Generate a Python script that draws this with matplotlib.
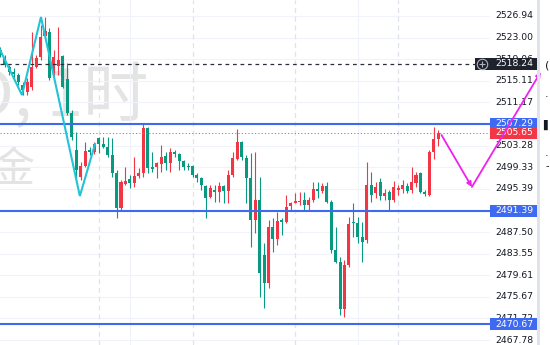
import matplotlib
matplotlib.use("Agg")
import matplotlib.pyplot as plt
from matplotlib.patches import Rectangle

# ---------------------------------------------------------------------------
# Velas 1H (XAUUSD)
# ---------------------------------------------------------------------------
opens = [
    2520.73, 2519.27, 2517.63, 2516.71, 2516.17, 2514.34, 2513.06, 2513.98, 2517.63, 2519.45,
    2523.29, 2524.02, 2516.71, 2517.81, 2519.64, 2515.44, 2509.23, 2502.47, 2497.54, 2499.55,
    2502.47, 2502.11, 2504.66, 2503.57, 2503.02, 2501.56, 2498.27, 2491.88, 2496.27, 2497.18,
    2496.45, 2497.73, 2498.27, 2506.49, 2499.37, 2499.37, 2499.92, 2501.38, 2500.10, 2502.11,
    2501.74, 2500.46, 2499.55, 2499.55, 2497.91, 2497.36, 2495.90, 2493.89, 2495.17, 2494.80,
    2495.90, 2494.99, 2497.91, 2500.83, 2503.93, 2501.01, 2497.36, 2489.69, 2493.34, 2483.30,
    2478.19, 2488.41, 2486.22, 2489.69, 2489.33, 2492.25, 2492.80, 2492.98, 2493.34, 2492.43,
    2493.34, 2495.35, 2494.99, 2495.90, 2492.98, 2484.22, 2482.02, 2473.44, 2481.48, 2489.33,
    2489.15, 2486.59, 2486.04, 2496.08, 2494.62, 2496.63, 2494.07, 2494.80, 2493.34, 2495.17,
    2495.35, 2495.90, 2495.17, 2496.45, 2498.27, 2494.80, 2494.26, 2502.11, 2504.48,
]
highs = [
    2521.28, 2519.82, 2517.99, 2517.44, 2516.53, 2514.89, 2515.62, 2524.02, 2519.82, 2525.30,
    2526.76, 2524.75, 2520.73, 2524.93, 2519.82, 2518.36, 2509.78, 2505.76, 2500.28, 2503.93,
    2503.02, 2503.93, 2504.85, 2504.85, 2504.85, 2504.66, 2498.82, 2497.00, 2499.37, 2497.91,
    2501.19, 2499.19, 2507.40, 2506.67, 2502.11, 2500.28, 2503.39, 2502.11, 2502.84, 2502.47,
    2501.93, 2500.65, 2500.10, 2499.73, 2498.27, 2497.54, 2496.08, 2496.08, 2496.08, 2496.63,
    2496.08, 2498.82, 2502.11, 2506.31, 2504.12, 2501.56, 2501.93, 2502.11, 2497.54, 2485.49,
    2489.69, 2490.06, 2491.15, 2490.06, 2494.26, 2492.98, 2494.62, 2494.80, 2494.80, 2493.89,
    2496.63, 2496.63, 2496.45, 2496.63, 2493.34, 2488.41, 2482.94, 2482.39, 2490.24, 2492.80,
    2490.24, 2489.33, 2500.28, 2498.46, 2496.63, 2497.36, 2495.35, 2495.17, 2496.81, 2496.08,
    2497.00, 2496.45, 2499.37, 2498.46, 2498.46, 2495.17, 2502.47, 2506.67, 2506.12,
]
lows = [
    2519.45, 2517.63, 2516.17, 2515.62, 2514.34, 2512.51, 2512.51, 2513.43, 2517.44, 2518.91,
    2522.92, 2515.25, 2515.98, 2516.17, 2513.79, 2508.86, 2504.30, 2496.63, 2497.00, 2499.37,
    2501.56, 2501.74, 2501.93, 2502.84, 2501.19, 2497.54, 2490.06, 2491.52, 2496.08, 2495.53,
    2495.72, 2497.36, 2497.54, 2498.27, 2498.46, 2497.36, 2498.46, 2498.82, 2498.46, 2501.19,
    2498.82, 2498.82, 2498.82, 2497.54, 2496.63, 2495.17, 2490.06, 2493.71, 2492.98, 2492.98,
    2492.80, 2492.80, 2497.54, 2500.65, 2500.65, 2492.80, 2484.76, 2487.32, 2475.63, 2473.62,
    2477.28, 2483.85, 2485.13, 2486.95, 2489.15, 2491.52, 2492.80, 2492.43, 2491.52, 2491.52,
    2492.98, 2493.71, 2494.62, 2492.80, 2483.67, 2481.84, 2472.35, 2471.98, 2481.11, 2486.59,
    2485.49, 2482.02, 2485.49, 2492.98, 2493.71, 2493.34, 2493.34, 2491.52, 2492.98, 2494.26,
    2494.62, 2494.62, 2494.62, 2495.72, 2494.62, 2494.07, 2494.07, 2500.83, 2503.20,
]
closes = [
    2519.82, 2517.99, 2516.71, 2516.35, 2514.89, 2513.43, 2514.89, 2517.63, 2519.27, 2523.10,
    2524.20, 2515.62, 2519.45, 2518.91, 2513.98, 2509.23, 2504.85, 2498.82, 2499.55, 2502.29,
    2502.11, 2503.57, 2503.57, 2503.02, 2501.56, 2498.27, 2491.88, 2496.63, 2496.81, 2496.45,
    2497.73, 2498.27, 2506.49, 2499.19, 2499.00, 2500.10, 2501.19, 2500.10, 2502.11, 2501.74,
    2500.46, 2499.37, 2499.37, 2497.91, 2497.36, 2496.08, 2493.71, 2495.53, 2494.80, 2495.90,
    2494.99, 2497.91, 2501.01, 2503.93, 2501.19, 2497.36, 2489.69, 2493.34, 2480.02, 2478.19,
    2488.41, 2486.22, 2489.51, 2489.33, 2492.07, 2492.80, 2493.16, 2493.16, 2492.43, 2493.34,
    2495.35, 2494.99, 2495.90, 2492.98, 2484.22, 2482.02, 2473.44, 2481.48, 2488.96, 2489.15,
    2486.59, 2485.68, 2496.08, 2494.26, 2495.72, 2494.07, 2494.62, 2493.34, 2495.72, 2495.53,
    2496.08, 2494.99, 2496.63, 2497.91, 2494.80, 2494.44, 2502.11, 2504.48, 2505.65,
]

# Escala de precios (eje derecho)
tick_prices = [2526.94, 2523.00, 2519.06, 2515.11, 2511.17, 2507.23, 2503.28, 2499.33,
               2495.39, 2491.44, 2487.50, 2483.55, 2479.61, 2475.67, 2471.72, 2467.78]

# Niveles dibujados
level_lines = [2507.29, 2491.39, 2470.67]
alert_price = 2518.24
last_price = 2505.65

# Separadores de sesión y rejilla vertical (índice de vela)
day_breaks = [22, 43, 66, 89]
grid_cols = [29, 80]

# Onda cian (índice de vela, precio)
wave_x = [-0.5, 4.85, 9.1, 17.8, 21.2]
wave_y = [2521.50, 2512.51, 2526.76, 2494.07, 2503.57]

# Proyección magenta
path_x = [98.7, 105.5, 120.9]
path_y = [2505.21, 2495.72, 2516.71]

# ---------------------------------------------------------------------------
# Geometría
# ---------------------------------------------------------------------------
W, H = 550, 345
PLOT_W = 490
BAR_PX = 4.47
BAR0_PX = 0.3
Y_TOP, Y_BOT = 2529.86, 2466.87

UP = "#f23645"
DOWN = "#089981"
BLUE = "#3d6af0"
TXT = "#131722"


def bar_at(px):
    return (px - BAR0_PX) / BAR_PX


def px_h(px):
    return px * (Y_TOP - Y_BOT) / H


def price_tag(ax, price, text, bg, x0=PLOT_W, x1=537, z=6):
    h = px_h(12)
    ax.add_patch(Rectangle((x0 / PLOT_W, price - h / 2), (x1 - x0) / PLOT_W, h,
                           transform=ax.get_yaxis_transform(), facecolor=bg,
                           edgecolor="none", clip_on=False, zorder=z))
    ax.text(495 / PLOT_W, price, text, transform=ax.get_yaxis_transform(),
            ha="left", va="center", fontsize=6.7, color="white",
            clip_on=False, zorder=z + 0.5)


fig = plt.figure(figsize=(W / 100, H / 100), dpi=100)
fig.patch.set_facecolor("white")
ax = fig.add_axes([0, 0, PLOT_W / W, 1])
ax.set_xlim(bar_at(0), bar_at(PLOT_W))
ax.set_ylim(Y_BOT, Y_TOP)
ax.axis("off")

# marca de agua
wm = ["Noto Sans CJK SC", "DejaVu Sans"]
ax.text(148 / PLOT_W, 1 - 98 / H, "XAUUSD, 1时", transform=ax.transAxes,
        ha="right", va="center", fontsize=47, color="#e4e4e4", family=wm, zorder=0)
ax.text(36 / PLOT_W, 1 - 170 / H, "黄金", transform=ax.transAxes,
        ha="right", va="center", fontsize=31, color="#e4e4e4", family=wm, zorder=0)

# rejilla
for p in tick_prices:
    ax.axhline(p, color="#f0f3fa", lw=0.8, zorder=0.5)
for c in grid_cols:
    ax.axvline(c, color="#f0f3fa", lw=0.8, zorder=0.5)
for c in day_breaks:
    ax.axvline(c, color="#e0e3eb", lw=0.9, dashes=(4, 3), zorder=0.5)

# velas
for i, (o, h, l, c) in enumerate(zip(opens, highs, lows, closes)):
    col = UP if c >= o else DOWN
    ax.vlines(i, l, h, color=col, lw=0.8, zorder=2)
    body = max(abs(c - o), px_h(1))
    ax.bar(i, body, bottom=min(o, c), width=0.68, color=col, lw=0, zorder=2.5)

# niveles
for p in level_lines:
    ax.axhline(p, color=BLUE, lw=1.5, zorder=3)
ax.plot([bar_at(0), bar_at(PLOT_W)], [last_price, last_price], color="#f7525f",
        lw=0.7, dashes=(1.2, 2.2), zorder=3)
ax.plot([bar_at(0), bar_at(475)], [alert_price, alert_price], color="#2a2e39",
        lw=0.9, dashes=(3, 3), zorder=3)

# onda cian
ax.plot(wave_x, wave_y, color="#22c3d6", lw=1.5, zorder=4, solid_joinstyle="miter")

# eje de precios
for p in tick_prices:
    ax.text(495 / PLOT_W, p, f"{p:.2f}", transform=ax.get_yaxis_transform(),
            ha="left", va="center", fontsize=6.7, color=TXT, clip_on=False, zorder=5)

price_tag(ax, level_lines[0], f"{level_lines[0]:.2f}", BLUE)
price_tag(ax, last_price, f"{last_price:.2f}", UP, z=6.6)
price_tag(ax, level_lines[1], f"{level_lines[1]:.2f}", BLUE)
price_tag(ax, level_lines[2], f"{level_lines[2]:.2f}", BLUE)
price_tag(ax, alert_price, f"{alert_price:.2f}", "#1e222d", x0=475)
ax.plot([bar_at(482)], [alert_price], marker="o", ms=7.5, mfc="none", mec="#b2b5be",
        mew=0.8, clip_on=False, zorder=8)
ax.plot([bar_at(482)], [alert_price], marker="+", ms=5, mec="#b2b5be", mew=0.8,
        clip_on=False, zorder=8)

# proyección magenta
for k in range(len(path_x) - 1):
    ax.annotate("", xy=(path_x[k + 1], path_y[k + 1]), xytext=(path_x[k], path_y[k]),
                arrowprops=dict(arrowstyle="-|>", color="#f020f0", lw=1.3,
                                mutation_scale=7, shrinkA=0, shrinkB=0),
                annotation_clip=False, zorder=9)

# barra lateral
fig.add_artist(Rectangle((537 / W, 0), 2.5 / W, 1, transform=fig.transFigure,
                         facecolor="#e0e3eb", edgecolor="none"))
for y, s, fs in [(66, "(", 8), (97, "·", 8), (125, "▌", 7), (156, "·", 8), (166, "-", 7)]:
    fig.text(547 / W, 1 - y / H, s, ha="center", va="center", fontsize=fs, color=TXT)

fig.savefig("out.png", dpi=100)
